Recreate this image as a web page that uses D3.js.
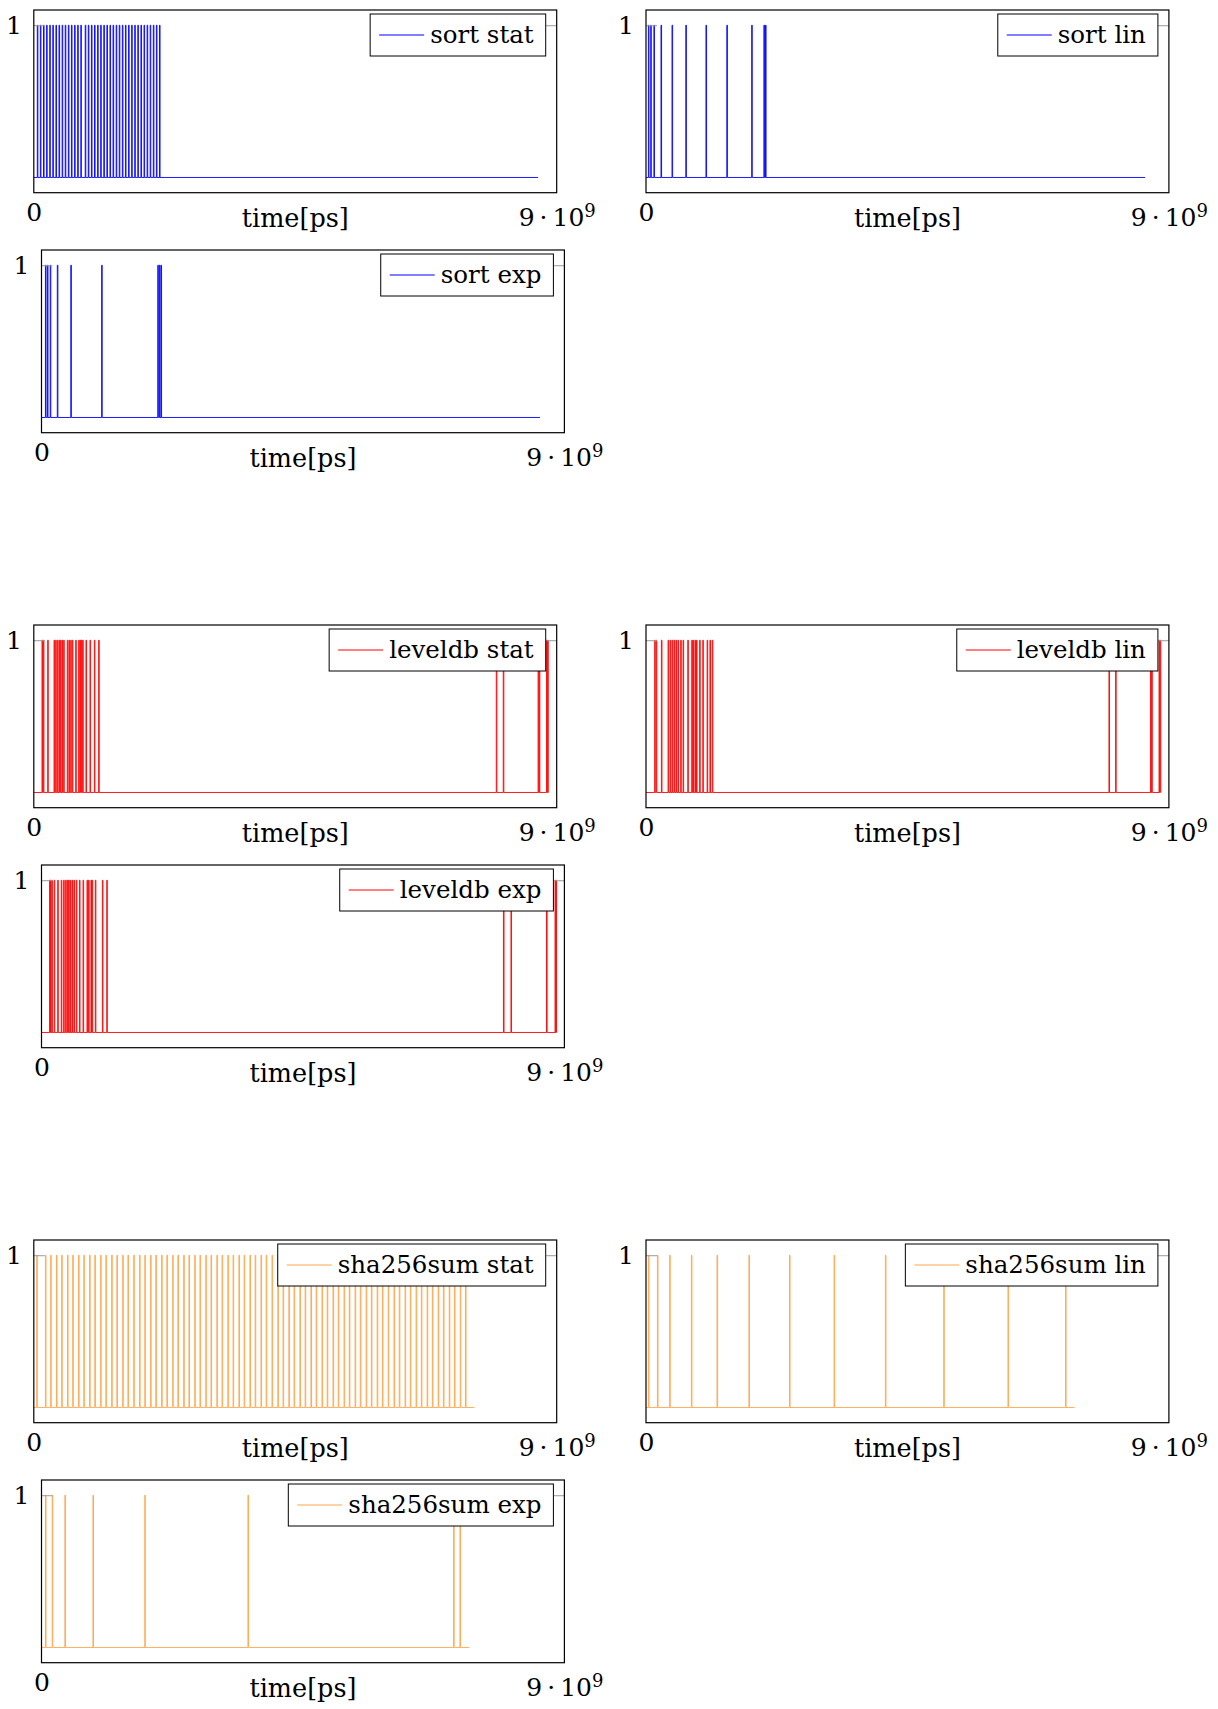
<!DOCTYPE html>
<html>
<head>
<meta charset="utf-8">
<script src="https://cdn.jsdelivr.net/npm/d3@7"></script>
<style>
  body { margin: 0; background: #fff; }
  text { font-family: "DejaVu Serif", serif; fill: #000; }
</style>
</head>
<body>
<svg id="chart" width="1218" height="1709"></svg>
<script>
// pulse start times, in units of 10^9 ps
const sortStatPulses = [0.060, 0.113, 0.167, 0.220, 0.274, 0.327, 0.381, 0.434, 0.488, 0.541, 0.595, 0.648, 0.702, 0.755, 0.809,
  0.885, 0.938, 0.992, 1.045, 1.098, 1.151, 1.205, 1.258, 1.311, 1.364, 1.418, 1.471, 1.524, 1.577, 1.631, 1.684, 1.737,
  1.790, 1.844, 1.897, 1.950, 2.003, 2.057, 2.110, 2.163];
const sortLinPulses = [0.041, 0.081, 0.136, 0.258, 0.448, 0.685, 1.032, 1.391, 1.819, 2.029, 2.057];
const sortExpPulses = [0.068, 0.102, 0.150, 0.272, 0.504, 1.035, 2.001, 2.029, 2.056];

const leveldbStatPulses = [0.141, 0.164, 0.239, 0.348, 0.376, 0.405, 0.434, 0.457, 0.485, 0.514, 0.577, 0.606, 0.635, 0.663,
  0.721, 0.772, 0.795, 0.818, 0.841, 0.898, 0.967, 1.042, 1.116, 7.960, 8.080, 8.680, 8.700, 8.825, 8.845];
const leveldbLinPulses = [0.149, 0.176, 0.265, 0.380, 0.414, 0.448, 0.482, 0.516, 0.550, 0.597, 0.638, 0.719, 0.787, 0.808,
  0.842, 0.869, 0.923, 0.977, 1.052, 1.100, 1.140, 7.968, 8.083, 8.684, 8.704, 8.830, 8.850];
const leveldbExpPulses = [0.140, 0.150, 0.177, 0.218, 0.279, 0.340, 0.381, 0.415, 0.442, 0.463, 0.490, 0.524, 0.558, 0.599,
  0.653, 0.715, 0.783, 0.810, 0.851, 0.871, 0.926, 1.048, 1.123, 7.951, 8.080, 8.692, 8.839, 8.855];

const sha256sumStatPulses = [0.05, 0.20, 0.29, 0.39, 0.48, 0.58, 0.67, 0.77, 0.86, 0.96, 1.05, 1.15, 1.24, 1.34, 1.43, 1.53,
  1.62, 1.72, 1.82, 1.91, 2.01, 2.10, 2.20, 2.29, 2.39, 2.48, 2.58, 2.67, 2.77, 2.86, 2.96, 3.05, 3.15, 3.24, 3.34, 3.43,
  3.53, 3.62, 3.72, 3.81, 3.91, 4.00, 4.10, 4.20, 4.29, 4.39, 4.48, 4.58, 4.67, 4.77, 4.86, 4.96, 5.05, 5.15, 5.24, 5.34,
  5.43, 5.53, 5.62, 5.72, 5.81, 5.91, 6.00, 6.10, 6.20, 6.29, 6.39, 6.48, 6.58, 6.67, 6.77, 6.86, 6.96, 7.05, 7.15, 7.24,
  7.34, 7.43];
const sha256sumLinPulses = [0.041, 0.197, 0.407, 0.781, 1.222, 1.771, 2.470, 3.237, 4.120, 5.124, 6.230, 7.221];
const sha256sumExpPulses = [0.068, 0.184, 0.402, 0.885, 1.777, 3.553, 7.093, 7.202];

// end of each run (x 10^9 ps), same order as the labels
const runEnds = [8.68, 8.59, 8.58, 8.86, 8.86, 8.87, 7.585, 7.377, 7.365];
const labels = ["sort stat", "sort lin", "sort exp", "leveldb stat", "leveldb lin", "leveldb exp",
  "sha256sum stat", "sha256sum lin", "sha256sum exp"];
const allPulses = [sortStatPulses, sortLinPulses, sortExpPulses, leveldbStatPulses, leveldbLinPulses, leveldbExpPulses,
  sha256sumStatPulses, sha256sumLinPulses, sha256sumExpPulses];
const benchColors = ["#0000ff", "#ff0000", "#ffa64d"];

const PULSE_W = 0.01;
const xTicks = [0, 9];
const yTicks = [1];

const svg = d3.select("#chart");
svg.append("rect").attr("width", 1218).attr("height", 1709).attr("fill", "#fff");

const W = 522.9, H = 182.7;
const x = d3.scaleLinear().domain([0, 9]).range([0, W]);
const y = d3.scaleLinear().domain([-0.1, 1.1]).range([H, 0]);

const line = d3.line().x(d => x(d[0])).y(d => y(d[1]));

// stat | lin on one line, exp under it
const panelPos = [[33.8, 10], [646, 10], [41.5, 250]];
const rowOffset = [0, 615, 1230];

function drawPanel(left, top, pulses, endT, color, label) {
  const g = svg.append("g").attr("transform", `translate(${left},${top})`);

  let pts = [[0, 0]];
  pulses.forEach(t => {
    pts.push([t, 0], [t, 1], [t + PULSE_W, 1], [t + PULSE_W, 0]);
  });
  pts.push([endT, 0]);

  g.append("path")
    .datum(pts)
    .attr("d", line)
    .attr("fill", "none")
    .attr("stroke", color)
    .attr("stroke-width", 0.9);

  // y ticks, inward on both sides
  const yl = g.append("g").call(d3.axisLeft(y).tickValues(yTicks).tickFormat(d3.format("d"))
    .tickSizeInner(-11).tickSizeOuter(0).tickPadding(12));
  const yr = g.append("g").attr("transform", `translate(${W},0)`)
    .call(d3.axisRight(y).tickValues(yTicks).tickSizeInner(-11).tickSizeOuter(0).tickFormat(""));
  [yl, yr].forEach(a => {
    a.select(".domain").remove();
    a.selectAll("line").attr("stroke", "#999");
  });
  yl.selectAll("text").attr("font-size", 25).attr("font-family", "DejaVu Serif");

  const xa = g.append("g").attr("transform", `translate(0,${H})`)
    .call(d3.axisBottom(x).tickValues(xTicks).tickSize(0).tickPadding(11));
  xa.select(".domain").remove();
  xa.selectAll("text").attr("font-size", 25).attr("font-family", "DejaVu Serif")
    .each(function(d) {
      if (d === 9) {
        const t = d3.select(this).text("9\u2009·\u200910").attr("y", 16);
        t.append("tspan").attr("font-size", 18).attr("dy", "-0.55em").text("9");
      }
    });

  g.append("rect")
    .attr("width", W).attr("height", H)
    .attr("fill", "none").attr("stroke", "#000").attr("stroke-width", 1.2);

  g.append("text")
    .attr("x", W / 2).attr("y", H + 34)
    .attr("text-anchor", "middle")
    .attr("font-size", 25.5)
    .text("time[ps]");

  // legend
  const lg = g.append("g");
  const box = lg.append("rect").attr("fill", "#fff").attr("stroke", "#000").attr("stroke-width", 1);
  lg.append("line").attr("x1", 9).attr("x2", 54).attr("y1", 21).attr("y2", 21)
    .attr("stroke", color).attr("stroke-width", 1);
  const txt = lg.append("text").attr("x", 60).attr("y", 29).attr("font-size", 24.5).text(label);
  const lw = 60 + txt.node().getComputedTextLength() + 12;
  box.attr("width", lw).attr("height", 42);
  lg.attr("transform", `translate(${W - 11 - lw},4)`);
}

labels.forEach((label, i) => {
  const row = Math.floor(i / 3), k = i % 3;
  drawPanel(panelPos[k][0], panelPos[k][1] + rowOffset[row], allPulses[i], runEnds[i], benchColors[row], label);
});
</script>
</body>
</html>
